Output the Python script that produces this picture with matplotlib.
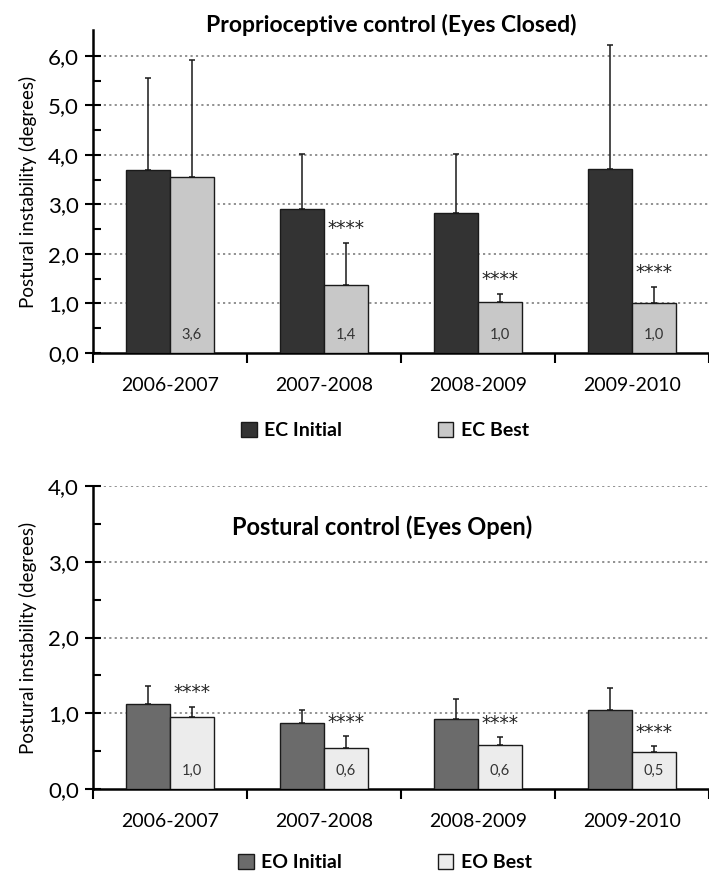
import matplotlib
matplotlib.use("Agg")
import matplotlib.pyplot as plt
import numpy as np
from matplotlib.ticker import FixedLocator, FuncFormatter

plt.rcParams['font.family'] = ['Lato', 'DejaVu Sans']

categories = ['2006-2007', '2007-2008', '2008-2009', '2009-2010']

ec_initial = [3.69, 2.91, 2.82, 3.71]
ec_initial_err = [1.87, 1.11, 1.20, 2.50]
ec_best = [3.55, 1.37, 1.03, 1.00]
ec_best_err = [2.37, 0.86, 0.17, 0.34]
ec_best_labels = ['3,6', '1,4', '1,0', '1,0']
ec_stars = ['', '****', '****', '****']

eo_initial = [1.13, 0.87, 0.93, 1.04]
eo_initial_err = [0.23, 0.18, 0.26, 0.29]
eo_best = [0.95, 0.55, 0.58, 0.49]
eo_best_err = [0.14, 0.15, 0.11, 0.08]
eo_best_labels = ['1,0', '0,6', '0,6', '0,5']
eo_stars = ['****', '****', '****', '****']

fig = plt.figure(figsize=(7.09, 8.73), dpi=100)

ax1 = fig.add_axes([0.1307, 0.5957, 0.869, 0.3699])
ax2 = fig.add_axes([0.1307, 0.0959, 0.869, 0.3477])

comma = FuncFormatter(lambda v, p: f"{v:.1f}".replace('.', ','))

def draw(ax, init, init_err, best, best_err, labels, stars, c_init, c_best,
         ymax, ytop, name_init, name_best, legend_y):
    x = np.arange(len(categories))
    w = 0.286
    b1 = ax.bar(x - w / 2, init, w, color=c_init, edgecolor='#1a1a1a', linewidth=1.0,
                yerr=[np.zeros(len(init)), init_err], capsize=2.5,
                error_kw=dict(elinewidth=1.1, capthick=1.1, ecolor='#1a1a1a'),
                label=name_init, zorder=3)
    b2 = ax.bar(x + w / 2, best, w, color=c_best, edgecolor='#1a1a1a', linewidth=1.0,
                yerr=[np.zeros(len(best)), best_err], capsize=2.5,
                error_kw=dict(elinewidth=1.1, capthick=1.1, ecolor='#1a1a1a'),
                label=name_best, zorder=3)
    for i in range(len(categories)):
        ax.annotate(labels[i], (x[i] + w / 2, 0), xytext=(0, 13),
                    textcoords='offset points', ha='center', va='center',
                    fontsize=10.5, color='#333333', zorder=4)
        if stars[i]:
            ax.annotate(stars[i], (x[i] + w / 2, best[i] + best_err[i]),
                        xytext=(0, 10), textcoords='offset points',
                        ha='center', va='center', fontsize=13.5,
                        family='DejaVu Sans', color='#222222', zorder=4)
    ax.set_xlim(-0.5, len(categories) - 0.5)
    ax.set_ylim(0, ytop)
    ax.set_yticks(np.arange(0, ymax + 0.01, 1.0))
    ax.yaxis.set_minor_locator(FixedLocator(np.arange(0.5, ymax, 1.0)))
    ax.yaxis.set_major_formatter(comma)
    ax.tick_params(axis='y', which='major', direction='inout', length=12,
                   width=1.5, labelsize=16, pad=4)
    ax.tick_params(axis='y', which='minor', direction='in', length=6, width=1.5)
    ax.set_xticks(np.arange(-0.5, len(categories), 1.0))
    ax.set_xticklabels([])
    ax.set_xticks(x, minor=True)
    ax.set_xticklabels(categories, minor=True)
    ax.tick_params(axis='x', which='major', direction='out', length=7, width=1.5)
    ax.tick_params(axis='x', which='minor', length=0, labelsize=14, pad=17)
    for v in np.arange(1, ymax + 0.01, 1.0):
        ax.axhline(v, color='#888888', linestyle=(0, (1.2, 1.8)), linewidth=1.3,
                   zorder=1)
    for s in ['top', 'right']:
        ax.spines[s].set_visible(False)
    for s in ['left', 'bottom']:
        ax.spines[s].set_linewidth(1.8)
    ax.set_ylabel('Postural instability (degrees)', fontsize=13.5, labelpad=8)
    ax.legend(handles=[b1, b2], loc='center', bbox_to_anchor=(0.543, legend_y),
              bbox_transform=fig.transFigure, ncol=2,
              frameon=False, handlelength=0.8, handleheight=0.8,
              handletextpad=0.4, columnspacing=4.9,
              prop=dict(weight='bold', size=14))

draw(ax1, ec_initial, ec_initial_err, ec_best, ec_best_err, ec_best_labels,
     ec_stars, '#333333', '#c8c8c8', 6, 6.52, 'EC Initial', 'EC Best', 0.507)
draw(ax2, eo_initial, eo_initial_err, eo_best, eo_best_err, eo_best_labels,
     eo_stars, '#6b6b6b', '#ececec', 4, 4.0, 'EO Initial', 'EO Best', 0.012)

fig.text(0.552, 0.971, 'Proprioceptive control (Eyes Closed)', ha='center',
         va='center', fontsize=16.5, fontweight='bold')
ax2.text(0.47, 3.46, 'Postural control (Eyes Open)', transform=ax2.get_yaxis_transform(),
         ha='center', va='center', fontsize=17, fontweight='bold')

fig.savefig('out.png', dpi=100)
